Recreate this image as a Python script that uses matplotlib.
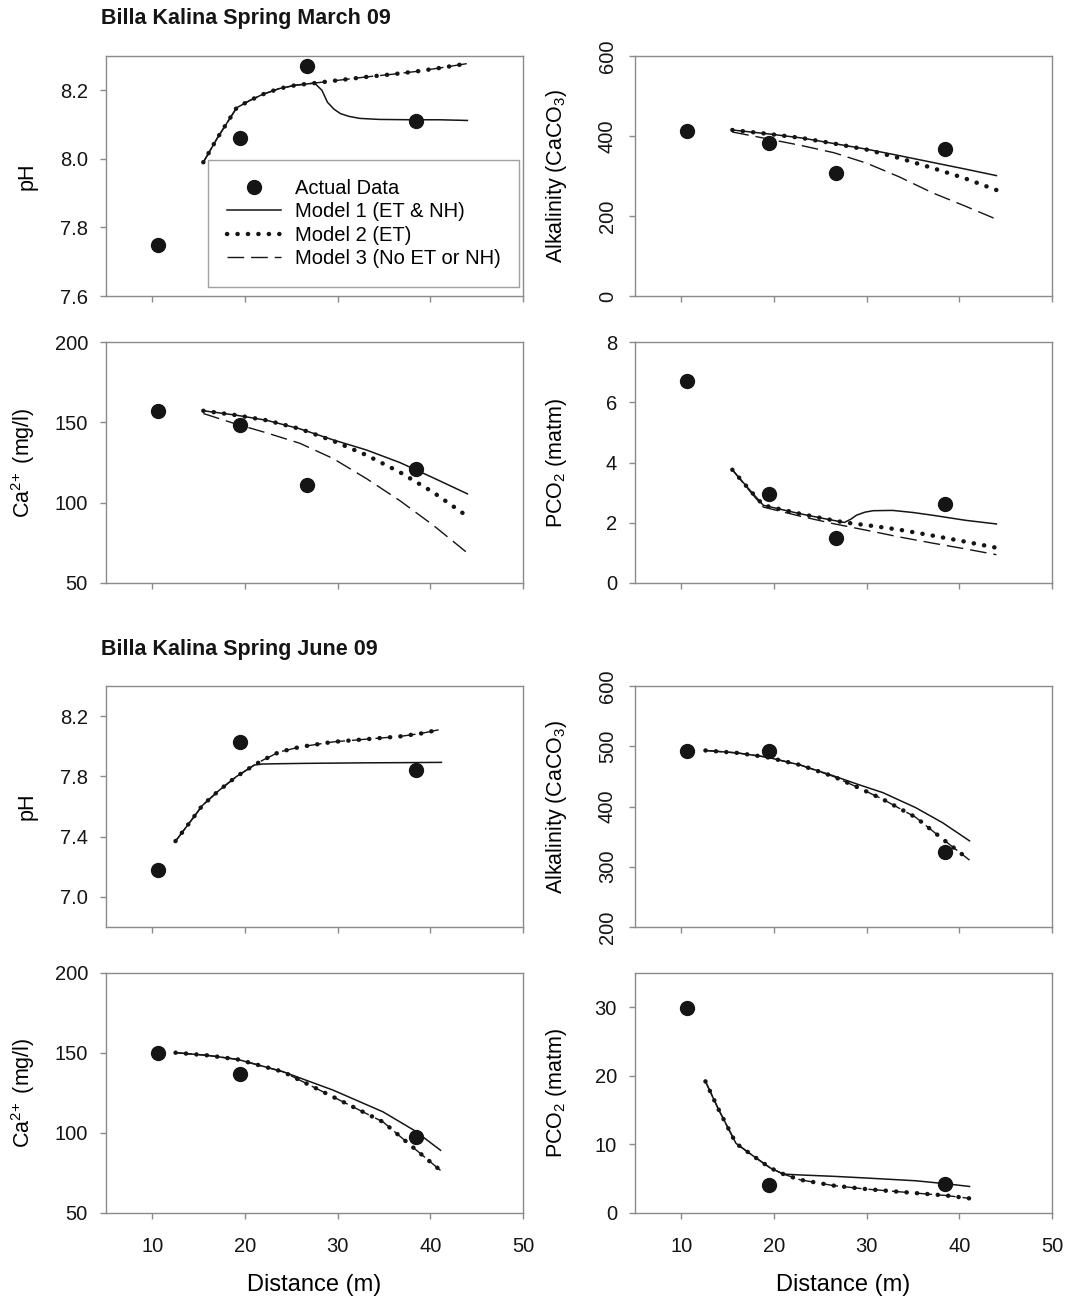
import matplotlib
matplotlib.use("Agg")
import matplotlib.pyplot as plt
from matplotlib.lines import Line2D

plt.rcParams["font.family"] = ["Liberation Sans", "DejaVu Sans"]
plt.rcParams["mathtext.fontset"] = "custom"
plt.rcParams["mathtext.rm"] = "Liberation Sans"
plt.rcParams["mathtext.default"] = "regular"

# %%
# Data: distance (m) and values
dist_obs_mar = [10.65, 19.45, 26.65, 38.5]
dist_obs_jun = [10.65, 19.45, 38.5]

# --- March 09 ---
ph_obs_mar = [7.75, 8.06, 8.27, 8.11]
ph_m1_x = [15.5, 17.0, 19.1, 20.5, 21.9, 23.7, 25.5, 27.5, 28.3, 28.9, 29.6, 30.3, 31.2, 32.4, 34.5, 38.0, 41.0, 44.0]
ph_m1_y = [7.99, 8.06, 8.149, 8.17, 8.188, 8.205, 8.215, 8.221, 8.20, 8.165, 8.145, 8.132, 8.124, 8.118, 8.115, 8.114, 8.114, 8.112]
ph_m2_x = [15.5, 17.0, 19.1, 20.5, 21.9, 23.7, 25.5, 27.5, 30.0, 33.1, 36.0, 38.5, 41.0, 44.0]
ph_m2_y = [7.99, 8.06, 8.149, 8.17, 8.188, 8.205, 8.215, 8.221, 8.229, 8.239, 8.247, 8.255, 8.265, 8.278]
ph_m3_x = ph_m2_x
ph_m3_y = ph_m2_y

alk_obs_mar = [413, 383, 307, 367]
alk_m_x_mar = [15.5, 19.5, 23.0, 26.5, 30.0, 33.5, 37.1, 40.5, 44.0]
alk_m1_mar = [415, 405, 395, 381, 367, 351, 334, 318, 301]
alk_m2_mar = [415, 405, 395, 381, 366, 345, 320, 295, 265]
alk_m3_mar = [410, 392, 376, 358, 332, 298, 258, 226, 192]

ca_obs_mar = [156.9, 148.1, 111.2, 121.2]
ca_m_x_mar = [15.5, 19.0, 22.3, 25.9, 29.5, 33.1, 36.7, 40.3, 44.0]
ca_m1_mar = [157.2, 154.5, 151.3, 146.0, 139.1, 132.8, 125.0, 115.5, 105.5]
ca_m2_mar = [157.2, 154.5, 151.3, 146.0, 138.5, 129.6, 119.0, 106.5, 91.5]
ca_m3_mar = [155.5, 149.0, 143.5, 137.0, 127.5, 115.0, 101.3, 86.0, 68.7]

pco2_obs_mar = [6.70, 2.94, 1.48, 2.62]
pco2_m1_x = [15.5, 17.2, 18.85, 20.8, 22.8, 25.2, 27.6, 28.3, 28.9, 29.8, 30.7, 32.8, 35.0, 37.1, 40.7, 44.0]
pco2_m1_y = [3.76, 3.15, 2.58, 2.44, 2.30, 2.15, 2.01, 2.12, 2.25, 2.35, 2.40, 2.41, 2.34, 2.25, 2.08, 1.96]
pco2_m2_x = [15.5, 17.2, 18.85, 20.8, 22.8, 25.2, 27.6, 30.5, 33.5, 37.0, 40.5, 44.0]
pco2_m2_y = [3.76, 3.15, 2.58, 2.44, 2.30, 2.15, 2.01, 1.90, 1.77, 1.58, 1.38, 1.17]
pco2_m3_x = [15.5, 17.2, 18.85, 22.8, 26.4, 30.0, 33.5, 37.0, 40.5, 44.0]
pco2_m3_y = [3.76, 3.12, 2.52, 2.22, 1.97, 1.75, 1.53, 1.33, 1.14, 0.94]

# --- June 09 ---
ph_obs_jun = [7.18, 8.03, 7.84]
ph_jx = [12.5, 13.95, 15.4, 17.2, 19.06, 21.0, 21.9, 23.7, 25.9, 29.5, 33.1, 36.7, 39.0, 41.2]
ph_m1_jun = [7.37, 7.487, 7.607, 7.707, 7.798, 7.875, 7.882, 7.884, 7.886, 7.888, 7.890, 7.891, 7.892, 7.893]
ph_m2_jun = [7.37, 7.487, 7.607, 7.707, 7.798, 7.875, 7.907, 7.962, 7.995, 8.029, 8.047, 8.065, 8.085, 8.113]
ph_m3_jun = ph_m2_jun

alk_obs_jun = [492.7, 492.7, 324.3]
alk_jx = [12.6, 16.0, 19.2, 22.8, 26.4, 29.0, 31.75, 35.3, 38.2, 41.1]
alk_m1_jun = [493, 489, 482, 469, 451, 437, 423, 398, 373, 343]
alk_m2_jun = [493, 489, 482, 469, 450, 432, 412, 382, 346, 311]
alk_m3_jun = alk_m2_jun

ca_obs_jun = [150.0, 136.8, 97.7]
ca_jx = [12.5, 16.0, 19.2, 24.1, 29.5, 34.9, 38.3, 41.1]
ca_m1_jun = [150.2, 148.5, 146.0, 138.3, 126.8, 113.2, 101.5, 89.2]
ca_m2_jun = [150.2, 148.5, 146.0, 138.3, 122.6, 106.9, 90.2, 76.6]
ca_m3_jun = ca_m2_jun

pco2_obs_jun = [29.85, 4.06, 4.2]
pco2_jx = [12.6, 14.0, 15.9, 17.8, 19.6, 21.0, 22.8, 26.4, 30.0, 35.3, 38.6, 41.1]
pco2_m1_jun = [19.2, 15.15, 10.15, 8.28, 6.57, 5.68, 5.55, 5.35, 5.10, 4.70, 4.26, 3.87]
pco2_m2_jun = [19.2, 15.15, 10.15, 8.28, 6.57, 5.68, 4.85, 4.00, 3.48, 2.90, 2.55, 2.13]
pco2_m3_jun = pco2_m2_jun

legend_labels = ["Actual Data", "Model 1 (ET & NH)", "Model 2 (ET)", "Model 3 (No ET or NH)"]

# %%
W, H = 1075, 1305
fig = plt.figure(figsize=(W / 100, H / 100), dpi=100)

SPINE = "#8a8a8a"
INK = "#151515"
TICK_FS = 14.5
LAB_FS = 15.5


def make_ax(x0, y0, x1, y1):
    ax = fig.add_axes([x0 / W, 1 - y1 / H, (x1 - x0) / W, (y1 - y0) / H])
    for s in ax.spines.values():
        s.set_color(SPINE)
        s.set_linewidth(1.0)
    ax.tick_params(direction="out", length=4, width=1.0, color=SPINE,
                   labelsize=TICK_FS, labelcolor=INK, pad=9)
    ax.set_xlim(5, 50)
    ax.set_xticks([10, 20, 30, 40, 50])
    return ax


def draw(ax, xo, yo, m1, m2, m3):
    ax.plot(m3[0], m3[1], color=INK, lw=1.0, ls=(0, (12, 5)))
    ax.plot(m1[0], m1[1], color=INK, lw=1.1, ls="-")
    ax.plot(m2[0], m2[1], color=INK, lw=3.2, ls=(0, (0.05, 2.3)),
            dash_capstyle="round")
    ax.plot(xo, yo, "o", color=INK, ms=10, ls="none")


LX0, LX1 = 106, 523
RX0, RX1 = 635, 1052
rows = [(56, 296), (342, 583), (686, 927), (973, 1213)]

axes = {}
for i, (t, b) in enumerate(rows):
    axes[(i, 0)] = make_ax(LX0, t, LX1, b)
    axes[(i, 1)] = make_ax(RX0, t, RX1, b)

# March pH
ax = axes[(0, 0)]
draw(ax, dist_obs_mar, ph_obs_mar, (ph_m1_x, ph_m1_y), (ph_m2_x, ph_m2_y), (ph_m3_x, ph_m3_y))
ax.set_ylim(7.6, 8.3)
ax.set_yticks([7.6, 7.8, 8.0, 8.2])
ax.set_ylabel("pH", fontsize=LAB_FS)
handles = [
    Line2D([], [], color=INK, marker="o", ms=10, ls="none"),
    Line2D([], [], color=INK, lw=1.1),
    Line2D([], [], color=INK, lw=3.2, ls=(0, (0.05, 2.3)), dash_capstyle="round"),
    Line2D([], [], color=INK, lw=1.0, ls=(0, (12, 5))),
]
leg = ax.legend(handles, legend_labels, loc="lower left", bbox_to_anchor=(0.244, 0.037, 0.746, 0.53),
                mode="expand", fontsize=14.5, frameon=True, fancybox=False, handlelength=2.7,
                handletextpad=0.7, labelspacing=0.22, borderpad=0.95, borderaxespad=0)
leg.get_frame().set_edgecolor(SPINE)
leg.get_frame().set_linewidth(1.0)

# March alkalinity
ax = axes[(0, 1)]
draw(ax, dist_obs_mar, alk_obs_mar, (alk_m_x_mar, alk_m1_mar), (alk_m_x_mar, alk_m2_mar), (alk_m_x_mar, alk_m3_mar))
ax.set_ylim(0, 600)
ax.set_yticks([0, 200, 400, 600])
ax.set_ylabel("Alkalinity (CaCO$_3$)", fontsize=LAB_FS)

# March Ca
ax = axes[(1, 0)]
draw(ax, dist_obs_mar, ca_obs_mar, (ca_m_x_mar, ca_m1_mar), (ca_m_x_mar, ca_m2_mar), (ca_m_x_mar, ca_m3_mar))
ax.set_ylim(50, 200)
ax.set_yticks([50, 100, 150, 200])
ax.set_ylabel(r"Ca$^{2\!+}$ (mg/l)", fontsize=LAB_FS)

# March PCO2
ax = axes[(1, 1)]
draw(ax, dist_obs_mar, pco2_obs_mar, (pco2_m1_x, pco2_m1_y), (pco2_m2_x, pco2_m2_y), (pco2_m3_x, pco2_m3_y))
ax.set_ylim(0, 8)
ax.set_yticks([0, 2, 4, 6, 8])
ax.set_ylabel("PCO$_2$ (matm)", fontsize=LAB_FS)

# June pH
ax = axes[(2, 0)]
draw(ax, dist_obs_jun, ph_obs_jun, (ph_jx, ph_m1_jun), (ph_jx, ph_m2_jun), (ph_jx, ph_m3_jun))
ax.set_ylim(6.8, 8.4)
ax.set_yticks([7.0, 7.4, 7.8, 8.2])
ax.set_ylabel("pH", fontsize=LAB_FS)

# June alkalinity
ax = axes[(2, 1)]
draw(ax, dist_obs_jun, alk_obs_jun, (alk_jx, alk_m1_jun), (alk_jx, alk_m2_jun), (alk_jx, alk_m3_jun))
ax.set_ylim(200, 600)
ax.set_yticks([200, 300, 400, 500, 600])
ax.set_ylabel("Alkalinity (CaCO$_3$)", fontsize=LAB_FS)

# June Ca
ax = axes[(3, 0)]
draw(ax, dist_obs_jun, ca_obs_jun, (ca_jx, ca_m1_jun), (ca_jx, ca_m2_jun), (ca_jx, ca_m3_jun))
ax.set_ylim(50, 200)
ax.set_yticks([50, 100, 150, 200])
ax.set_ylabel(r"Ca$^{2\!+}$ (mg/l)", fontsize=LAB_FS)

# June PCO2
ax = axes[(3, 1)]
draw(ax, dist_obs_jun, pco2_obs_jun, (pco2_jx, pco2_m1_jun), (pco2_jx, pco2_m2_jun), (pco2_jx, pco2_m3_jun))
ax.set_ylim(0, 35)
ax.set_yticks([0, 10, 20, 30])
ax.set_ylabel("PCO$_2$ (matm)", fontsize=LAB_FS)

# tick labels / label placement
for (r, c), ax in axes.items():
    if r < 3:
        ax.tick_params(axis="x", labelbottom=False)
    else:
        ax.tick_params(axis="x", pad=13)
        ax.set_xlabel("Distance (m)", fontsize=17, labelpad=13)
    if c == 0:
        ax.yaxis.set_label_coords(-0.165, 0.5)
    else:
        ax.yaxis.set_label_coords(-0.158, 0.5)

for key in [(0, 1), (2, 1)]:
    ax = axes[key]
    ax.tick_params(axis="y", labelrotation=90, pad=9)
    for lab in ax.get_yticklabels():
        lab.set_va("center")

fig.text(101 / W, 1 - 24 / H, "Billa Kalina Spring March 09", fontsize=15.5,
         fontweight="bold", color=INK, va="baseline", ha="left")
fig.text(101 / W, 1 - 655 / H, "Billa Kalina Spring June 09", fontsize=15.5,
         fontweight="bold", color=INK, va="baseline", ha="left")

fig.savefig("out.png", dpi=100)
